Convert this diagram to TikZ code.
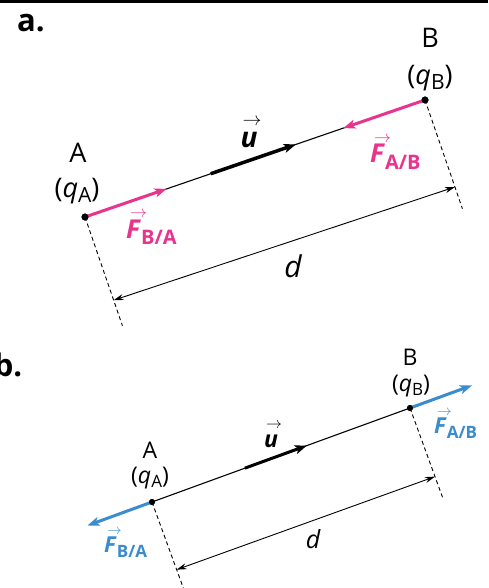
\documentclass[tikz,border=0pt]{standalone}
\usepackage{fontspec}
\usepackage{graphicx}
\setmainfont{Open Sans}
\usetikzlibrary{calc,arrows.meta}
\definecolor{pinkF}{RGB}{232,52,140}
\definecolor{blueF}{RGB}{58,140,205}
\newsavebox\arrbox
% \arr{horizontal shift}{gap above}{content}
\newcommand\arr[3]{\leavevmode\sbox\arrbox{#3}\rlap{\hspace{#1}\raisebox{\dimexpr\ht\arrbox+#2\relax}{\resizebox{\dimexpr\wd\arrbox+2pt\relax}{!}{$\rightarrow$}}}\usebox\arrbox}
\newcommand\subx[3]{\raisebox{#1}{\fontsize{#2}{#2}\selectfont #3}}
\begin{document}
\begin{tikzpicture}[x=1pt,y=-1pt,
  dot/.style={circle,fill=black,inner sep=0pt,minimum size=7pt},
  axis/.style={line width=1.1pt},
  pinkforce/.style={draw=pinkF,line width=3pt,-{Stealth[length=12pt,width=9pt,inset=3pt]}},
  blueforce/.style={draw=blueF,line width=3pt,-{Stealth[length=12pt,width=9pt,inset=3pt]}},
  uvec/.style={line width=3.5pt,-{Stealth[length=12pt,width=9pt,inset=3pt]}},
  dimline/.style={line width=0.9pt,{Stealth[length=10pt,width=6pt]}-{Stealth[length=10pt,width=6pt]}},
  guide/.style={line width=0.9pt,dash pattern=on 4pt off 3pt},
  lbla/.style={inner sep=0pt,anchor=base,font=\fontsize{27}{29}\selectfont},
  lblb/.style={inner sep=0pt,anchor=base,font=\fontsize{23}{25}\selectfont},
  forcelbl/.style={inner sep=0pt,anchor=base west},
  part/.style={inner sep=0pt,font=\bfseries\fontsize{31}{31}\selectfont}
]
\useasboundingbox (0,0) rectangle (488,588);
\fill (0,0) rectangle (488,3.5);

% ---------------- part a ----------------
\node[part] (la) at (31,23) {a.};
\node[dot] (A) at (85,217) {};
\node[dot] (B) at (425,100) {};
\draw[axis] (A.center) -- (B.center);
\draw[pinkforce] (A.center) -- ($(A.center)!0.24!(B.center)$);
\draw[pinkforce] (B.center) -- ($(A.center)!0.76!(B.center)$);
\draw[uvec] ($(A.center)!0.37!(B.center)$) -- ($(A.center)!0.62!(B.center)$);
\coordinate (gA) at ($(A.center)!115pt!-90:(B.center)$);
\coordinate (gB) at ($(B.center)!115pt!90:(A.center)$);
\draw[guide] (A.center) -- (gA);
\draw[guide] (B.center) -- (gB);
\coordinate (dA) at ($(A.center)!88pt!-90:(B.center)$);
\coordinate (dB) at ($(B.center)!92pt!90:(A.center)$);
\draw[dimline] (dA) -- (dB);
\node[dot] at (A) {};
\node[dot] at (B) {};
\node[lbla] (An) at (78,162) {A};
\node[lbla] (Aq) at (77,197) {(\textit{q}\subx{-5pt}{21}{A})};
\node[lbla] (Bn) at (430,48) {B};
\node[lbla] (Bq) at (430,85) {(\textit{q}\subx{-5pt}{21}{B})};
\node[forcelbl,text=pinkF,font=\bfseries\fontsize{26}{28}\selectfont] (Fba) at (126,238) {\arr{4pt}{2pt}{\textit{F}}\subx{-6pt}{20}{B/A}};
\node[forcelbl,text=pinkF,font=\bfseries\fontsize{26}{28}\selectfont] (Fab) at (370,163) {\arr{4pt}{2pt}{\textit{F}}\subx{-6pt}{20}{A/B}};
\node[lbla,font=\bfseries\itshape\fontsize{28}{30}\selectfont] (ua) at (249,148) {\arr{2pt}{7pt}{u}};
\node[lbla,font=\itshape\fontsize{30}{32}\selectfont] (da) at (293,277) {d};

% ---------------- part b ----------------
\node[part] (lb) at (8,365) {b.};
\node[dot,minimum size=6pt] (A2) at (152,502) {};
\node[dot,minimum size=6pt] (B2) at (410,408) {};
\draw[axis] (A2.center) -- (B2.center);
\draw[blueforce] (A2.center) -- ($(A2.center)!-0.25!(B2.center)$);
\draw[blueforce] (B2.center) -- ($(A2.center)!1.24!(B2.center)$);
\draw[uvec,line width=3pt] ($(A2.center)!0.36!(B2.center)$) -- ($(A2.center)!0.6!(B2.center)$);
\coordinate (gA2) at ($(A2.center)!92pt!-90:(B2.center)$);
\coordinate (gB2) at ($(B2.center)!95pt!90:(A2.center)$);
\draw[guide] (A2.center) -- (gA2);
\draw[guide] (B2.center) -- (gB2);
\coordinate (dA2) at ($(A2.center)!72pt!-90:(B2.center)$);
\coordinate (dB2) at ($(B2.center)!73pt!90:(A2.center)$);
\draw[dimline] (dA2) -- (dB2);
\node[dot,minimum size=6pt] at (A2) {};
\node[dot,minimum size=6pt] at (B2) {};
\node[lblb] (An2) at (150,458) {A};
\node[lblb] (Aq2) at (150,483) {(\textit{q}\subx{-4pt}{17}{A})};
\node[lblb] (Bn2) at (410,365) {B};
\node[lblb] (Bq2) at (411,391) {(\textit{q}\subx{-4pt}{17}{B})};
\node[forcelbl,text=blueF,font=\bfseries\fontsize{22}{24}\selectfont] (Fba2) at (104,552) {\arr{3pt}{2pt}{\textit{F}}\subx{-5pt}{17}{B/A}};
\node[forcelbl,text=blueF,font=\bfseries\fontsize{22}{24}\selectfont] (Fab2) at (434,433) {\arr{3pt}{2pt}{\textit{F}}\subx{-5pt}{17}{A/B}};
\node[lblb,font=\bfseries\itshape\fontsize{23}{25}\selectfont] (ub) at (271,447) {\arr{2pt}{6pt}{u}};
\node[lblb,font=\itshape\fontsize{25}{27}\selectfont] (db) at (313,548) {d};
\end{tikzpicture}
\end{document}
